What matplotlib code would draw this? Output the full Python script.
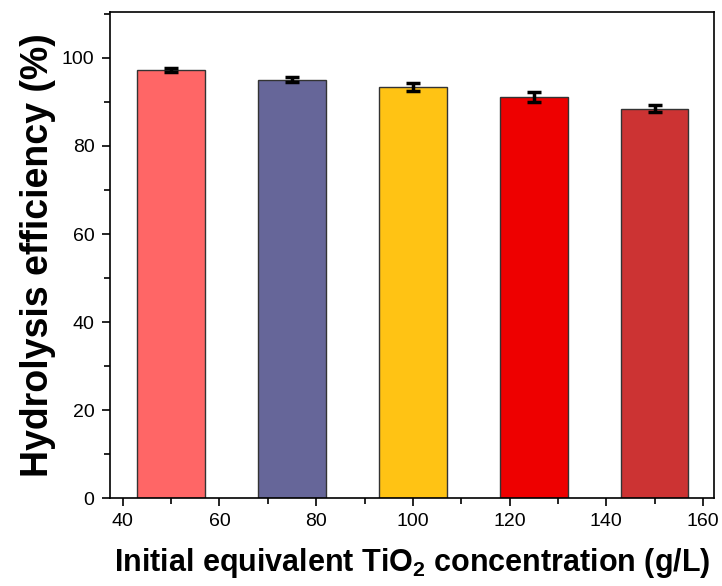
import matplotlib
matplotlib.use("Agg")
import matplotlib.pyplot as plt
from matplotlib.ticker import MultipleLocator

plt.rcParams['font.family'] = ['Liberation Sans', 'DejaVu Sans']
plt.rcParams['mathtext.fontset'] = 'custom'
plt.rcParams['mathtext.bf'] = 'Liberation Sans:bold'
plt.rcParams['mathtext.rm'] = 'Liberation Sans'

conc = [50, 75, 100, 125, 150]
eff = [97.2, 95.1, 93.5, 91.2, 88.5]
err = [0.5, 0.5, 0.9, 1.1, 0.7]
colors = ['#FF6666', '#666699', '#FFC314', '#EE0000', '#CC3333']

fig = plt.figure(figsize=(7.22, 5.86), dpi=100)
ax = fig.add_axes([0.152, 0.150, 0.837, 0.830])

ax.bar(conc, eff, width=14, color=colors, edgecolor='#333333', linewidth=1.0, zorder=2)
ax.errorbar(conc, eff, yerr=err, fmt='none', ecolor='black', elinewidth=2.5,
            capsize=5, capthick=2.5, zorder=3)

ax.set_xlim(37.3, 162.3)
ax.set_ylim(0, 110.5)
ax.xaxis.set_major_locator(MultipleLocator(20))
ax.xaxis.set_minor_locator(MultipleLocator(10))
ax.yaxis.set_major_locator(MultipleLocator(20))
ax.yaxis.set_minor_locator(MultipleLocator(10))
ax.tick_params(which='both', direction='out', width=1.2, labelsize=14)
ax.tick_params(which='major', length=6, pad=5)
ax.tick_params(which='minor', length=4)
for s in ax.spines.values():
    s.set_linewidth(1.2)

ax.set_xlabel('Initial equivalent TiO$_\\mathbf{2}$ concentration (g/L)', fontsize=22,
              fontweight='bold', labelpad=11)
ax.set_ylabel('Hydrolysis efficiency (%)', fontsize=27, fontweight='bold', labelpad=4)

fig.savefig('out.png', dpi=100)
